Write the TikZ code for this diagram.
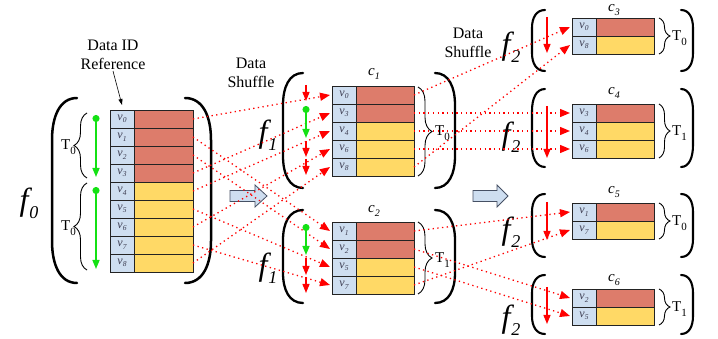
\documentclass[tikz,border=0pt]{standalone}
\usepackage{fontspec}
\setmainfont{Liberation Serif}
\usetikzlibrary{arrows.meta,decorations.pathreplacing}
\definecolor{redc}{RGB}{221,124,107}
\definecolor{yelc}{RGB}{255,217,102}
\definecolor{idc}{RGB}{206,222,240}
\definecolor{grn}{RGB}{20,225,20}
\definecolor{rd}{RGB}{255,0,0}
\definecolor{vtext}{RGB}{60,60,80}
\definecolor{bord}{RGB}{35,35,35}
\definecolor{barr}{RGB}{70,80,100}

\newcommand\vl[1]{{\fontsize{12}{12}\selectfont\itshape v\kern0.2pt\raisebox{-2.5pt}{\fontsize{7.5}{7.5}\selectfont #1}}}
\newcommand\Tl[1]{{\fontsize{15}{15}\selectfont T\raisebox{-4.5pt}{\fontsize{11}{11}\selectfont #1}}}
\newcommand\cl[1]{{\fontsize{15}{15}\selectfont\itshape c\raisebox{-4pt}{\fontsize{10}{10}\selectfont #1}}}
\newcommand\fl[1]{{\fontsize{32}{32}\selectfont\itshape f\kern1pt\raisebox{-8pt}{\fontsize{18}{18}\selectfont #1}}}

\newcommand\mkstack[5]{%
  \foreach \id/\col [count=\k from 0] in {#5}{%
    \node[idcell] (#1i\id) at (#2,{#3+18*\k}) {\vl{\id}};
    \node[datacell, minimum width=#4pt, fill=\col] (#1d\id) at (#1i\id.north east) {};
  }}
% left parenthesis: xl, xr, top, bottom, curve length
\newcommand\lpar[6][]{%
  \draw[paren,#1] (#3,#4) .. controls ({#2+0.3*(#3-#2)},#4) and (#2,{#4+0.45*#6}) .. (#2,{#4+#6})
    -- (#2,{#5-#6}) .. controls (#2,{#5-0.45*#6}) and ({#2+0.3*(#3-#2)},#5) .. (#3,#5);}
\newcommand\rpar[6][]{%
  \draw[paren,#1] (#2,#4) .. controls ({#3-0.3*(#3-#2)},#4) and (#3,{#4+0.45*#6}) .. (#3,{#4+#6})
    -- (#3,{#5-#6}) .. controls (#3,{#5-0.45*#6}) and ({#3-0.3*(#3-#2)},#5) .. (#2,#5);}
% block arrow: x tail, x head start, x tip, y centre
\newcommand\blockarr[4]{%
  \draw[blockarrow] (#1,{#4-5.5}) -- (#2,{#4-5.5}) -- (#2,{#4-11}) -- (#3,#4) -- (#2,{#4+11})
    -- (#2,{#4+5.5}) -- (#1,{#4+5.5}) -- cycle;}

\begin{document}
\begin{tikzpicture}[x=1pt,y=-1pt,
  cellbase/.style={draw=bord, line width=0.9pt, minimum height=18pt, inner sep=0pt, outer sep=0pt, anchor=north west},
  idcell/.style={cellbase, fill=idc, minimum width=24pt, text=vtext},
  datacell/.style={cellbase},
  paren/.style={line width=2.5pt, line cap=round, black},
  brc/.style={decorate, decoration={brace, amplitude=#1}, line width=0.9pt, black},
  shuf/.style={draw=rd, line width=1.3pt, dash pattern=on 1.3pt off 3.4pt, -{Triangle[length=10pt,width=8pt]}},
  rarr/.style={draw=rd, line width=1.3pt, -{Triangle[length=9pt,width=7pt]}},
  garr/.style={draw=grn, line width=1.5pt, {Circle[length=7pt]}-{Triangle[length=9pt,width=7pt]}},
  blockarrow/.style={draw=barr, fill=idc, line width=0.8pt, line join=miter},
  lbl/.style={inner sep=1pt, align=center, font=\fontsize{16}{19}\selectfont},
]
\useasboundingbox (0,0) rectangle (718,339);

% ---------- brackets ----------
\lpar{52}{77}{98}{283}{42}
\rpar{185}{211}{98}{283}{42}
\lpar[line width=2.3pt]{283}{303}{73}{188}{32}
\rpar[line width=2.3pt]{435}{455}{73}{188}{32}
\lpar[line width=2.3pt]{283}{303}{210}{303}{30}
\rpar[line width=2.3pt]{435}{455}{210}{303}{30}
\lpar[line width=2.1pt]{532}{545}{10}{71}{18}
\rpar[line width=2.1pt]{681}{693}{10}{71}{18}
\lpar[line width=2.1pt]{532}{545}{89}{167}{22}
\rpar[line width=2.1pt]{681}{693}{89}{167}{22}
\lpar[line width=2.1pt]{532}{545}{194}{257}{18}
\rpar[line width=2.1pt]{681}{693}{194}{257}{18}
\lpar[line width=2.1pt]{532}{545}{275}{334}{18}
\rpar[line width=2.1pt]{681}{693}{275}{334}{18}

% ---------- stacks ----------
\mkstack{A}{110}{110}{59}{0/redc,1/redc,2/redc,3/redc,4/yelc,5/yelc,6/yelc,7/yelc,8/yelc}
\mkstack{B}{332}{86}{58}{0/redc,3/redc,4/yelc,6/yelc,8/yelc}
\mkstack{C}{332}{222}{58}{1/redc,2/redc,5/yelc,7/yelc}
\mkstack{D}{572}{18}{58}{0/redc,8/yelc}
\mkstack{E}{572}{104}{58}{3/redc,4/yelc,6/yelc}
\mkstack{F}{572}{203}{58}{1/redc,7/yelc}
\mkstack{G}{572}{289}{58}{2/redc,5/yelc}

% ---------- braces and T labels ----------
\draw[brc=13pt] (87,178) -- (87,113);
\draw[brc=13pt] (87,270) -- (87,183);
\node[inner sep=0pt, anchor=east] (t0a) at (76,147) {\Tl{0}};
\node[inner sep=0pt, anchor=east] (t0b) at (76,228) {\Tl{0}};
\draw[brc=14pt] (418,87) -- (418,176);
\draw[brc=14pt] (418,222) -- (418,294);
\node[inner sep=0pt, anchor=west] (t1a) at (435,133) {\Tl{0}};
\node[inner sep=0pt, anchor=west] (t1b) at (435,260) {\Tl{1}};
\draw[brc=11pt] (659,18) -- (659,54);
\draw[brc=11pt] (659,104) -- (659,158);
\draw[brc=11pt] (659,203) -- (659,239);
\draw[brc=11pt] (659,289) -- (659,325);
\node[inner sep=0pt, anchor=west] (t2a) at (672,38) {\Tl{0}};
\node[inner sep=0pt, anchor=west] (t2b) at (672,133) {\Tl{1}};
\node[inner sep=0pt, anchor=west] (t2c) at (672,223) {\Tl{0}};
\node[inner sep=0pt, anchor=west] (t2d) at (672,309) {\Tl{1}};

% ---------- c labels ----------
\node[inner sep=0pt] (c1) at (374,74) {\cl{1}};
\node[inner sep=0pt] (c2) at (374,211) {\cl{2}};
\node[inner sep=0pt] (c3) at (614,10) {\cl{3}};
\node[inner sep=0pt] (c4) at (614,93) {\cl{4}};
\node[inner sep=0pt] (c5) at (614,192) {\cl{5}};
\node[inner sep=0pt] (c6) at (614,280) {\cl{6}};

% ---------- f labels ----------
\node[inner sep=0pt] (f0) at (29,203) {\fl{0}};
\node[inner sep=0pt] (f1a) at (268,135) {\fl{1}};
\node[inner sep=0pt] (f1b) at (268,268) {\fl{1}};
\node[inner sep=0pt] (f2a) at (511,47) {\fl{2}};
\node[inner sep=0pt] (f2b) at (511,137) {\fl{2}};
\node[inner sep=0pt] (f2c) at (511,232) {\fl{2}};
\node[inner sep=0pt] (f2d) at (511,320) {\fl{2}};

% ---------- text labels ----------
\node[lbl] (dataid) at (113,55) {Data ID\\Reference};
\draw[line width=0.6pt, -{Triangle[length=6pt,width=4pt]}] (dataid.south) -- ([yshift=5pt]Ai0.north);
\node[lbl] (ds1) at (251,73) {Data\\Shuffle};
\node[lbl] (ds2) at (468,43) {Data\\Shuffle};

% ---------- block arrows ----------
\blockarr{230}{255}{267}{196}
\blockarr{473}{497}{508}{196}

% ---------- shuffle 1 ----------
\foreach \i in {0,3,4,6,8} {\draw[shuf] (Ad\i.east) -- ([xshift=-2pt]Bi\i.west);}
\foreach \i in {1,2,5,7} {\draw[shuf] (Ad\i.east) -- ([xshift=-2pt]Ci\i.west);}
% ---------- shuffle 2 ----------
\foreach \i in {0,8} {\draw[shuf] (Bd\i.east) -- ([xshift=-2pt]Di\i.west);}
\foreach \i in {3,4,6} {\draw[shuf] (Bd\i.east) -- ([xshift=-2pt]Ei\i.west);}
\foreach \i in {1,7} {\draw[shuf] (Cd\i.east) -- ([xshift=-2pt]Fi\i.west);}
\foreach \i in {2,5} {\draw[shuf] (Cd\i.east) -- ([xshift=-2pt]Gi\i.west);}

% ---------- vertical arrows ----------
\draw[garr] (96,115) -- (96,177);
\draw[garr] (96,187) -- (96,269);
\draw[rarr] (306,85) -- (306,101);
\draw[garr] (306,106) -- (306,138);
\draw[rarr] (306,141) -- (306,157);
\draw[rarr] (306,159) -- (306,175);
\draw[garr] (306,224) -- (306,255);
\draw[rarr] (306,258) -- (306,275);
\draw[rarr] (306,277) -- (306,293);
\draw[rarr] (547,17) -- (547,53);
\draw[rarr] (547,106) -- (547,158);
\draw[rarr] (547,202) -- (547,240);
\draw[rarr] (547,287) -- (547,324);
\end{tikzpicture}
\end{document}
